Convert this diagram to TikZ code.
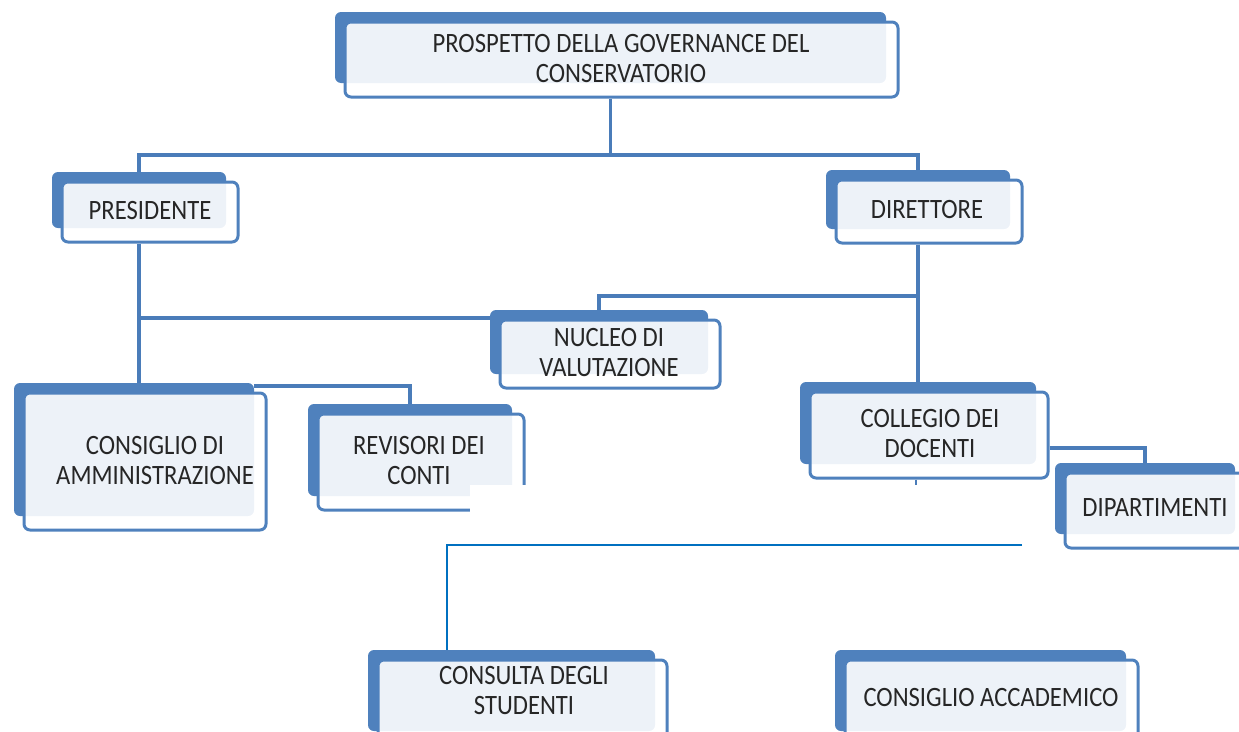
\documentclass[tikz,border=0pt]{standalone}
\usepackage{fontspec}
\setmainfont{Carlito}[FakeStretch=0.88]
\usetikzlibrary{backgrounds,calc}
\definecolor{sblue}{HTML}{4F81BD}
\definecolor{cblue}{HTML}{4A7CB9}
\definecolor{lblue}{HTML}{0070C0}
\tikzset{
 front/.style={draw=sblue, line width=3pt, rounded corners=6pt, fill=white, fill opacity=0.9, draw opacity=1, text opacity=1, inner sep=0pt},
 shade/.style={fill=sblue, rounded corners=6pt, inner sep=0pt},
 lbl/.style={align=center, inner sep=0pt, font=\fontsize{28}{30}\selectfont, text=black!85},
 conn/.style={draw=cblue, line width=3.5pt},
 thinconn/.style={draw=lblue, line width=2.2pt},
}
\newcommand\orgbox[5]{% name cx cy w h
 \node[front, minimum width=#4, minimum height=#5] (#1) at (#2,#3) {};
 \begin{scope}[on background layer]
 \node[shade, minimum width=#4-2, minimum height=#5-4] (#1-s) at (#2-11,#3-12) {};
 \end{scope}}
\begin{document}
\begin{tikzpicture}[x=1pt,y=-1pt]
\useasboundingbox (0,0) rectangle (1239,731);
% boxes
\orgbox{top}{621.5}{59.5}{553}{75}
\orgbox{pres}{150}{212}{176}{60}
\orgbox{dir}{929}{211.5}{186}{63}
\orgbox{nuc}{610}{354}{220}{68}
\orgbox{cda}{145}{461.5}{242}{137}
\orgbox{rev}{421}{462}{206}{96}
\orgbox{coll}{929}{435}{238}{86}
\orgbox{dip}{1156}{510.5}{182}{75}
\orgbox{cons}{522.5}{702.5}{289}{85}
\orgbox{acc}{991.5}{702.5}{293}{85}
% texts
\node[lbl] (top-t) at (621,58.5) {PROSPETTO DELLA GOVERNANCE DEL\\CONSERVATORIO};
\node[lbl] (pres-t) at (150,211) {PRESIDENTE};
\node[lbl] (dir-t) at (927,210) {DIRETTORE};
\node[lbl] (nuc-t) at (609,353) {NUCLEO DI\\VALUTAZIONE};
\node[lbl] (cda-t) at (155,461) {CONSIGLIO DI\\AMMINISTRAZIONE};
\node[lbl] (rev-t) at (419,461) {REVISORI DEI\\CONTI};
\node[lbl] (coll-t) at (930,434) {COLLEGIO DEI\\DOCENTI};
\node[lbl] (dip-t) at (1155,508) {DIPARTIMENTI};
\node[lbl] (cons-t) at (524,691) {CONSULTA DEGLI\\STUDENTI};
\node[lbl] (acc-t) at (991,697) {CONSIGLIO ACCADEMICO};
% bus coordinates
\coordinate (bus1) at (611,155);
\coordinate (bus2) at (597,296);
\coordinate (bus3) at (137,318);
\coordinate (bus4) at (255,386);
\coordinate (bus5) at (1048,448);
\coordinate (low1) at (1022,545);
\coordinate (low2) at (447,545);
\coordinate (stub) at (916,485);
% connectors
\draw[conn] (top-s.south |- top.south) -- (top-s.south |- bus1);
\draw[conn] (pres-s.north) -- (pres-s.north |- bus1) -- (dir-s.north |- bus1) -- (dir-s.north);
\draw[conn] (pres-s.south |- pres.south) -- (pres-s.south |- cda-s.north);
\draw[conn] (pres-s.south |- bus3) -- (nuc-s.west |- bus3);
\draw[conn] (dir-s.south |- dir.south) -- (dir-s.south |- coll-s.north);
\draw[conn] (dir-s.south |- bus2) -- (nuc-s.north |- bus2) -- (nuc-s.north);
\draw[conn] (cda-s.north east |- bus4) -- (rev-s.north |- bus4) -- (rev-s.north);
\draw[conn] (coll.east |- bus5) -- (dip-s.north |- bus5) -- (dip-s.north);
\draw[conn, line width=2.5pt] (stub |- coll.south) -- (stub);
\draw[thinconn] (low1) -- (low2) -- (low2 |- cons-s.north);
% white cut-out
\fill[white] (470,485) rectangle (535,522);
\end{tikzpicture}
\end{document}
